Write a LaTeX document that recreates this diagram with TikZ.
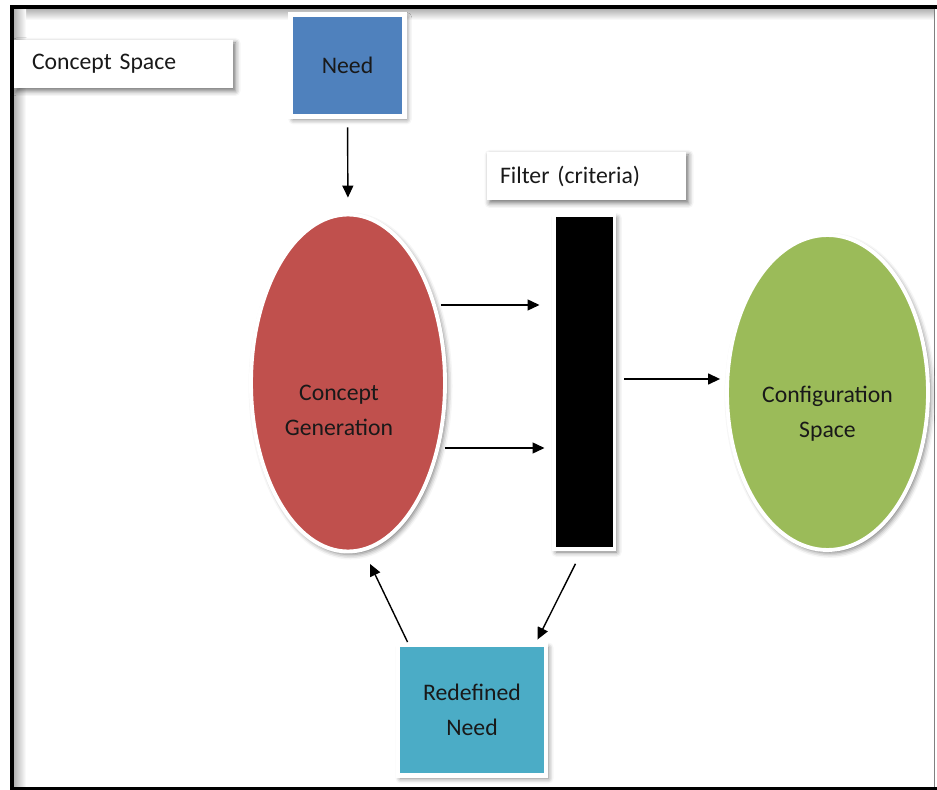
\documentclass[tikz,border=0pt]{standalone}
\usepackage{fontspec}
\setmainfont{Carlito}
\usetikzlibrary{shapes.geometric, arrows.meta, shadows.blur, calc}

\definecolor{needblue}{HTML}{4F81BD}
\definecolor{genred}{HTML}{C0504D}
\definecolor{confgreen}{HTML}{9BBB59}
\definecolor{redefteal}{HTML}{4BACC6}

\begin{document}
\begin{tikzpicture}[
    font=\fontsize{13.5}{20}\selectfont,
    % Shadows and text boxes
    boxshadow/.style={blur shadow={shadow xshift=0.05cm, shadow yshift=-0.06cm, shadow blur radius=0.1cm, shadow opacity=55}},
    lbl/.style={fill=white, boxshadow, minimum height=0.96cm, align=left, text=black!90},
    % Core shapes
    sqr/.style={draw=white, line width=2.8pt, boxshadow, align=center, text=black!90},
    oval/.style={ellipse, draw=white, line width=2.2pt, boxshadow},
    ovaltext/.style={align=center, text=black!90},
    bar/.style={fill=black, draw=white, line width=2pt, boxshadow, minimum width=1.21cm, minimum height=6.68cm},
    % Connectors
    arr/.style={line width=0.8pt, -{Triangle[length=2.4mm,width=2.2mm]}}
]
\useasboundingbox (0,0) rectangle (18.74,-15.8);

% ===============================
% Frame
% ===============================
\shade[top color=gray!60, bottom color=white] (0.28,-0.18) rectangle (18.68,-0.4);
\shade[left color=gray!60, right color=white] (0.28,-0.18) rectangle (0.52,-15.72);
\fill[black] (0.19,-0.1) rectangle (18.74,-0.18);
\fill[black] (0.19,-0.1) rectangle (0.28,-15.8);
\fill[black] (0.19,-15.73) rectangle (18.74,-15.8);
\draw[gray, line width=0.6pt] (18.69,-0.18) -- (18.69,-15.73);

% ===============================
% Nodes
% ===============================
\node[lbl, text width=3.66cm, inner xsep=0.36cm] (cspace) at (2.47,-1.28) {Concept Space};
\node[sqr, fill=needblue, minimum width=2.27cm, minimum height=2.04cm] (need) at (6.95,-1.31) {Need};
\node[oval, fill=genred, minimum width=3.88cm, minimum height=6.74cm,
      label={[ovaltext, xshift=-0.18cm, yshift=-0.54cm]center:Concept\\Generation}] (gen) at (6.96,-7.66) {};
\node[lbl, text width=3.46cm, inner xsep=0.26cm] (flbl) at (11.73,-3.52) {Filter (criteria)};
\node[bar] (filt) at (11.68,-7.64) {};
\node[oval, fill=confgreen, minimum width=4.02cm, minimum height=6.3cm,
      label={[ovaltext, yshift=-0.42cm]center:Configuration\\Space}] (conf) at (16.55,-7.85) {};
\node[sqr, fill=redefteal, minimum width=2.96cm, minimum height=2.62cm] (redef) at (9.44,-14.2) {Redefined\\Need};

% ===============================
% Connectors
% ===============================
\draw[arr, shorten <=0.17cm, shorten >=0.3cm] (need.south) -- (gen.north);

% Generation to filter
\coordinate (g1) at ($(gen.east)+(-0.12,1.56)$);
\coordinate (g2) at ($(gen.east)+(-0.04,-1.3)$);
\draw[arr, shorten >=0.25cm] (g1) -- (g1 -| filt.west);
\draw[arr, shorten >=0.15cm] (g2) -- (g2 -| filt.west);

% Filter to configuration space
\coordinate (f1) at ($(filt.east)+(0.16,0.06)$);
\draw[arr, shorten >=0.1cm] (f1) -- (f1 -| conf.west);

% Feedback loop
\draw[arr] ($(filt.south)+(-0.17,-0.26)$) -- ($(redef.north east)+(-0.22,0.05)$);
\draw[arr] ($(redef.north west)+(0.24,0)$) -- ($(gen.south)+(0.44,-0.21)$);

\end{tikzpicture}
\end{document}
